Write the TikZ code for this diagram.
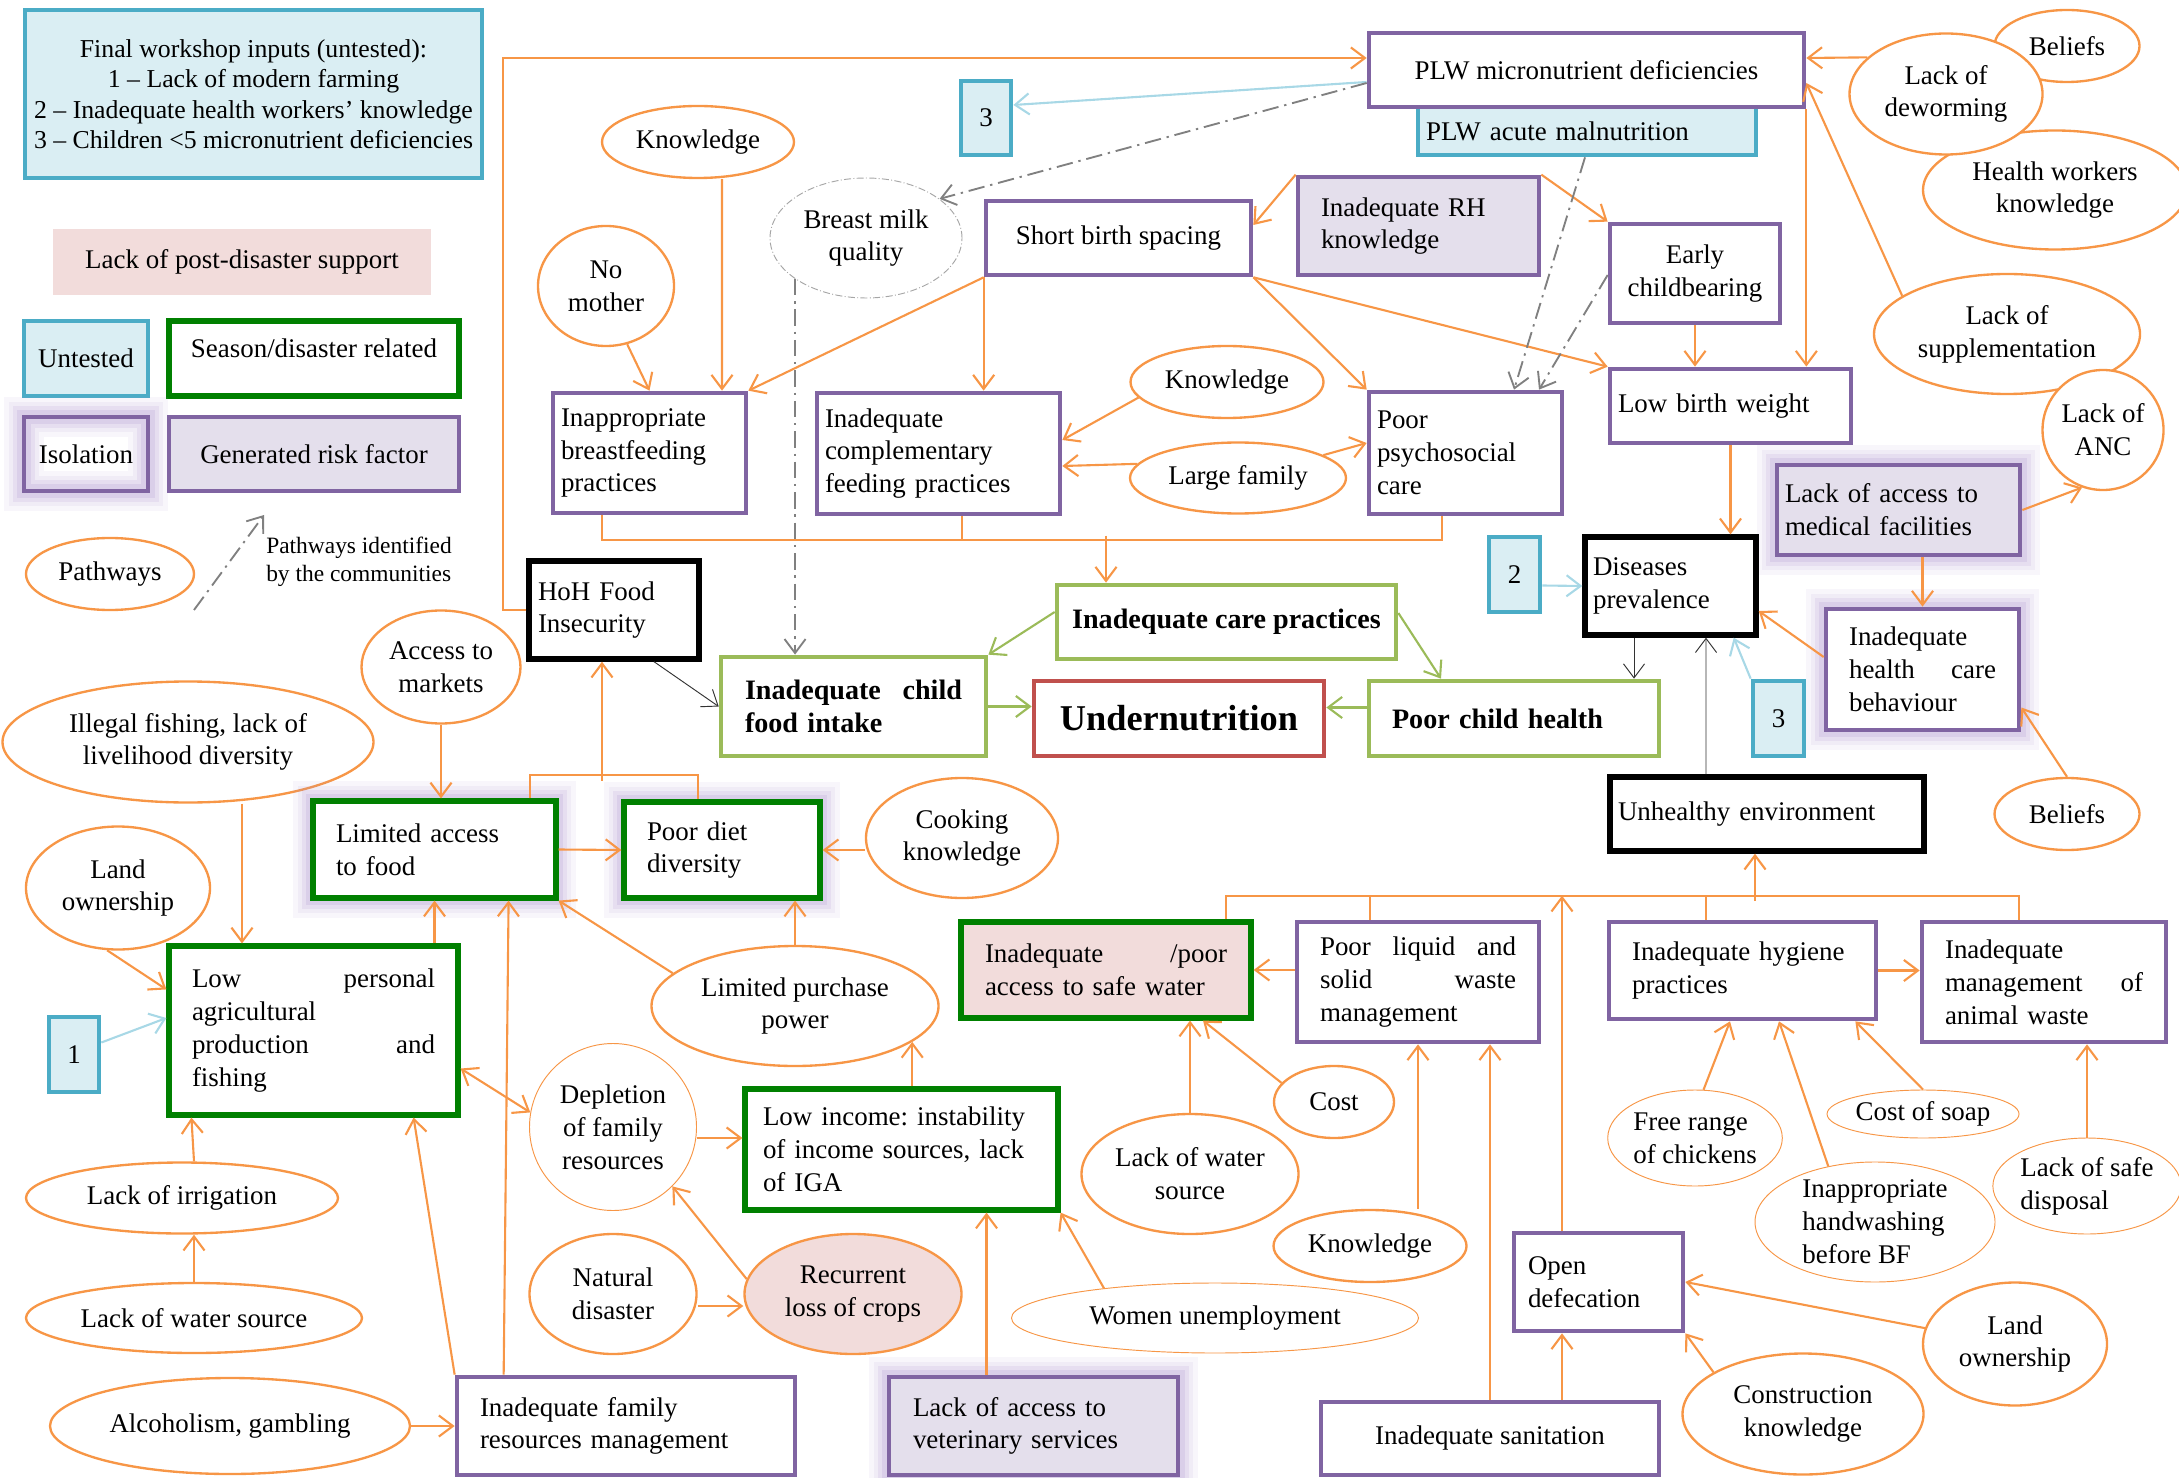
\documentclass[tikz,border=0pt]{standalone}
\usepackage{fontspec}
\setmainfont{Liberation Serif}
\usetikzlibrary{shapes.geometric,arrows.meta,calc}

\definecolor{orng}{HTML}{F79646}
\definecolor{purp}{HTML}{8064A2}
\definecolor{lav}{HTML}{E4DFEC}
\definecolor{dgreen}{HTML}{008000}
\definecolor{lgreen}{HTML}{9BBB59}
\definecolor{redb}{HTML}{C0504D}
\definecolor{blueb}{HTML}{4BACC6}
\definecolor{bluef}{HTML}{DAEEF3}
\definecolor{pinkf}{HTML}{F2DCDB}
\definecolor{ltblue}{HTML}{A8D8E6}
\definecolor{glowc}{HTML}{A98FCC}

\tikzset{
  wh/.code 2 args={\pgfmathsetlengthmacro\whw{#1*0.015cm}\pgfmathsetlengthmacro\whh{#2*0.015cm}\tikzset{minimum width=\whw, minimum height=\whh}},
  tw/.code={\pgfmathsetlengthmacro\twlen{#1*0.015cm}\tikzset{text width=\twlen}},
  padn/.style={inner xsep=0.12cm},
  padw/.style={inner xsep=0.345cm},
  pbox/.style={rectangle, draw=purp, line width=2pt, fill=white, align=left, inner ysep=2pt},
  gbox/.style={pbox, fill=lav},
  sbox/.style={pbox, draw=dgreen, line width=2.2pt},
  kbox/.style={pbox, draw=black, line width=2.3pt},
  cbox/.style={pbox, draw=lgreen, font=\fontsize{12}{14}\selectfont\bfseries},
  ubox/.style={rectangle, draw=blueb, line width=2pt, fill=bluef, align=center},
  glow/.style={preaction={draw=glowc, line width=17pt, opacity=0.08},
               preaction={draw=glowc, line width=13pt, opacity=0.1},
               preaction={draw=glowc, line width=9pt, opacity=0.14},
               preaction={draw=glowc, line width=6pt, opacity=0.2}},
  oval/.style={ellipse, draw=orng, line width=1pt, fill=white, align=center, inner sep=0pt},
  oarr/.style={draw=orng, line width=0.9pt, ->},
  oline/.style={draw=orng, line width=0.9pt},
  garr/.style={draw=lgreen, line width=0.9pt, ->},
  karr/.style={draw=black!80, line width=0.4pt, ->},
  barr/.style={draw=ltblue, line width=0.9pt, ->},
  parr/.style={draw=gray, line width=0.8pt, dash pattern=on 7pt off 2.5pt on 1pt off 2.5pt, ->}
}

\begin{document}
\begin{tikzpicture}[x=0.015cm, y=-0.015cm, >={Straight Barb[length=6pt,width=9pt]}, font=\fontsize{11.5}{14}\selectfont]
\useasboundingbox (0,0) rectangle (2179,1478);

% legend
\node[ubox, wh={457}{168}, font=\fontsize{11}{13}\selectfont] (leg) at (253.5,94) {Final workshop inputs (untested):\\1 – Lack of modern farming\\2 – Inadequate health workers’ knowledge\\3 – Children <5 micronutrient deficiencies};
\node[rectangle, fill=pinkf, wh={378}{66}] (post) at (242,262) {Lack of post-disaster support};
\node[ubox, wh={124}{75}] (untst) at (86,358.5) {Untested};
\node[sbox, wh={290}{75}, align=center, text depth=9pt] (seas) at (314,358.5) {Season/disaster related};
\node[pbox, glow, fill=none, wh={124}{74}] (isol) at (86,454) {Isolation};
\node[gbox, wh={290}{74}] (gen) at (314,454) {Generated risk factor};
\node[oval, wh={168}{72}] (pathw) at (110,574) {Pathways};
\coordinate (pa) at (194,610);
\coordinate (pb) at (264,515);
\node[anchor=west, align=left, font=\fontsize{10}{12}\selectfont] (ptxt) at (258,562) {Pathways identified\\by the communities};

% maternal side
\node[ubox, wh={338}{48}, padn, tw=322, align=left] (plwa) at (1587,131) {PLW acute malnutrition};
\node[pbox, wh={435}{74}] (plwm) at (1586.5,70) {PLW micronutrient deficiencies};
\node[ubox, wh={50}{74}] (thrA) at (986,118) {3};
\node[oval, wh={192}{72}] (knA) at (698,142) {Knowledge};
\node[oval, wh={136}{120}] (nomo) at (606,286) {No\\mother};
\node[oval, draw=gray!70, line width=0.4pt, densely dashdotted, wh={192}{120}] (bmq) at (866,238) {Breast milk\\quality};
\node[pbox, wh={265}{74}] (sbs) at (1118.5,238) {Short birth spacing};
\node[gbox, wh={241}{98}, padw, tw=195] (rh) at (1418.5,226) {Inadequate RH\\knowledge};
\node[pbox, wh={170}{99}, align=center] (ecb) at (1695,273.5) {Early\\childbearing};
\node[pbox, wh={241}{74}, padn, tw=225] (lbw) at (1730.5,406) {Low birth weight};
\node[pbox, wh={193}{120}, padn, tw=177] (inbf) at (649.5,453) {Inappropriate\\breastfeeding\\practices};
\node[pbox, wh={243}{121}, padn, tw=227] (icf) at (938.5,453.5) {Inadequate\\complementary\\feeding practices};
\node[oval, wh={193}{72}] (knB) at (1227,382) {Knowledge};
\node[oval, wh={216}{71}] (lfam) at (1238,478) {Large family};
\node[pbox, wh={193}{122}, padn, tw=177] (ppc) at (1465.5,453) {Poor\\psychosocial\\care};
\node[oval, wh={145}{72}] (belA) at (2067,46) {Beliefs};
\node[oval, wh={264}{119}] (hwk) at (2055,190) {Health workers\\knowledge};
\node[oval, wh={193}{121}] (dewo) at (1946,94) {Lack of\\deworming};
\node[oval, wh={266}{120}] (supp) at (2007,334) {Lack of\\supplementation};
\node[oval, wh={121}{120}] (anc) at (2103,430) {Lack of\\ANC};

% health side
\node[gbox, glow, wh={243}{90}, padn, tw=227] (lamf) at (1898.5,510) {Lack of access to\\medical facilities};
\node[pbox, glow, wh={193}{121}, padw, tw=147] (hcb) at (1922.5,669.5) {Inadequate\\health \hfill care\\behaviour};
\node[oval, wh={145}{72}] (belB) at (2067,814) {Beliefs};
\node[ubox, wh={51}{75}] (two) at (1514.5,574.5) {2};
\node[kbox, wh={171}{98}, padn, tw=155] (dis) at (1670.5,586) {Diseases\\prevalence};
\node[ubox, wh={51}{75}] (thrB) at (1778.5,718.5) {3};
\node[cbox, wh={290}{75}, padw, tw=244] (pch) at (1514,718.5) {Poor child health};
\node[pbox, draw=redb, wh={290}{75}, align=center, font=\fontsize{15.5}{18}\selectfont\bfseries] (und) at (1179,718.5) {Undernutrition};
\node[cbox, wh={265}{99}, padw, tw=217] (icfi) at (853.5,706.5) {Inadequate \hfill child\\food intake};
\node[cbox, wh={339}{74}, align=center] (icp) at (1226.5,622) {Inadequate care practices};
\node[kbox, wh={170}{98}, padn, tw=152] (hoh) at (614,610) {HoH Food\\Insecurity};
\node[kbox, wh={314}{74}, padn, tw=298] (unh) at (1767,814) {Unhealthy environment};

% food side
\node[oval, wh={371}{121}] (illg) at (188,742) {Illegal fishing, lack of\\livelihood diversity};
\node[oval, wh={159}{113}] (acm) at (441,667) {Access to\\markets};
\node[oval, wh={184}{123}] (landA) at (118,888) {Land\\ownership};
\node[sbox, glow, wh={243}{97}, padw, tw=197] (laf) at (434.5,849.5) {Limited access\\to food};
\node[sbox, glow, wh={194}{96}, padw, tw=150] (pdd) at (722,850) {Poor diet\\diversity};
\node[oval, wh={192}{120}] (cook) at (962,838) {Cooking\\knowledge};
\node[oval, wh={287}{120}] (lpp) at (795,1006) {Limited purchase\\power};
\node[sbox, wh={289}{169}, padw, tw=243] (lpap) at (313.5,1030.5) {Low \hfill personal\\agricultural\\production \hfill and\\fishing};
\node[ubox, wh={50}{75}] (one) at (74,1054.5) {1};
\node[oval, wh={312}{71}] (irr) at (182,1198) {Lack of irrigation};
\node[oval, wh={336}{70}] (wsrc) at (194,1318) {Lack of water source};
\node[oval, wh={360}{96}] (alc) at (230,1426) {Alcoholism, gambling};
\node[pbox, wh={338}{98}, padw, tw=292] (ifrm) at (626,1426) {Inadequate family\\resources management};
\node[oval, thin, wh={167}{167}] (depl) at (613,1127) {Depletion\\of family\\resources};
\node[oval, wh={167}{120}] (natd) at (613,1294) {Natural\\disaster};
\node[oval, fill=pinkf, wh={217}{120}] (rloc) at (853,1294) {Recurrent\\loss of crops};
\node[sbox, wh={313}{121}, inner xsep=0.27cm, tw=277] (linc) at (901.5,1149.5) {Low income:\ instability\\of income sources, lack\\of IGA};
\node[gbox, glow, wh={289}{98}, padw, tw=241] (vet) at (1033.5,1426) {Lack of access to\\veterinary services};
\node[oval, thin, wh={407}{70}] (wun) at (1215,1318) {Women unemployment};

% environment side
\node[sbox, fill=pinkf, wh={290}{96}, padw, tw=242] (wat) at (1106,970) {Inadequate \hfill /poor\\access to safe water};
\node[pbox, wh={242}{120}, padw, tw=196] (plsw) at (1418,982) {Poor \hfill liquid \hfill and\\solid \hfill waste\\management};
\node[pbox, wh={265}{97}, padw, tw=221] (hyg) at (1742.5,970.5) {Inadequate hygiene\\practices};
\node[pbox, wh={244}{120}, padw, tw=198] (anw) at (2044,982) {Inadequate\\management \hfill of\\animal waste};
\node[oval, wh={217}{120}] (lwsB) at (1190,1174) {Lack of water\\source};
\node[oval, wh={120}{72}] (cost) at (1334,1102) {Cost};
\node[oval, wh={193}{72}] (knC) at (1370,1246) {Knowledge};
\node[pbox, wh={169}{98}, inner xsep=0.21cm, tw=141] (opd) at (1598.5,1282) {Open\\defecation};
\node[pbox, wh={338}{73}, align=center] (isan) at (1490,1438.5) {Inadequate sanitation};
\node[oval, thin, align=left, wh={166}{96}] (frc) at (1695,1138) {Free range\\of chickens};
\node[oval, thin, wh={192}{48}] (csoap) at (1923,1114) {Cost of soap};
\node[oval, thin, align=left, wh={240}{120}] (hwbf) at (1875,1222) {Inappropriate\\handwashing\\before BF};
\node[oval, thin, align=left, wh={185}{96}] (lsd) at (2087,1186) {Lack of safe\\disposal};
\node[oval, wh={184}{123}] (landB) at (2015,1344) {Land\\ownership};
\node[oval, wh={241}{121}] (cons) at (1803,1414) {Construction\\knowledge};

% connectors, maternal side
\draw[oarr] (hoh.west) -- ++(-23,0) |- ($(plwm.west)+(0,-12)$);
\draw[oarr] ($(knA.south)+(24,0)$) -- ($(inbf.north)+(72.5,0)$);
\draw[oarr] (nomo.-70) -- (inbf.north);
\draw[oarr] (sbs.south west) -- (inbf.north east);
\draw[oarr] (sbs.south west) -- (sbs.south west |- icf.north);
\draw[oarr] (rh.north west) -- ($(sbs.east)+(0,-13)$);
\draw[oarr] (rh.north east) -- (ecb.north west);
\draw[oarr] (sbs.south east) -- (ppc.north west);
\draw[oarr] (sbs.south east) -- (lbw.north west);
\draw[oarr] (knB.190) -- ($(icf.east)+(0,-13.5)$);
\draw[oarr] (lfam.172) -- ($(icf.east)+(0,12.5)$);
\draw[oarr] (lfam.15) -- ($(ppc.west)+(0,-10)$);
\draw[oarr] (dewo.155) -- ($(plwm.east)+(0,-12)$);
\draw[oarr] (supp.160) -- ($(plwm.east)+(0,13)$);
\draw[oarr] (plwm.south east) -- (plwm.south east |- lbw.north);
\draw[oarr] (ecb.south) -- (ecb.south |- lbw.north);
\draw[oarr] (lbw.south) -- (lbw.south |- dis.north);
\draw[oarr] (lamf.east) -- (anc.-110);
\draw[oarr] (hcb.north |- lamf.south) -- (hcb.north);
\draw[oarr] ($(hcb.west)+(0,-12.5)$) -- ($(dis.east)+(0,25)$);
\draw[oarr] (belB.north) -- ($(hcb.east)+(0,38)$);
\draw[oline] ($(inbf.south)+(-47.5,0)$) -- ++(0,25) -| ($(ppc.south)+(-23.5,0)$);
\draw[oline] ($(icf.south)+(23.5,0)$) -- ++(0,24);
\draw[oarr] ($(icp.north)+(-120.5,-47)$) -- ($(icp.north)+(-120.5,0)$);

% food side
\draw[oline] ($(laf.north)+(95.5,0)$) |- ($(pdd.north)+(-24,-24)$) -- ($(pdd.north)+(-24,0)$);
\draw[oarr] ($(hoh.south)+(-12,119)$) -- ($(hoh.south)+(-12,0)$);
\draw[oarr] (acm.south) -- (acm.south |- laf.north);
\draw[oarr] ($(illg.south)+(54,0)$) -- ($(lpap.north)+(-71.5,0)$);
\draw[oarr] (landA.-100) -- ($(lpap.north west)+(0,46)$);
\draw[oarr] (laf.south |- lpap.north) -- (laf.south);
\draw[oarr] ($(ifrm.north west)+(49,0)$) -- ($(laf.south east)+(-50,0)$);
\draw[oarr] (laf.east) -- (pdd.west);
\draw[oarr] ($(cook.west)+(0,12)$) -- (pdd.east);
\draw[oarr] (lpp.north) -- (lpp.north |- pdd.south);
\draw[oarr] (lpp.165) -- (laf.south east);
\draw[oarr] (alc.east) -- (ifrm.west);
\draw[oarr] (ifrm.north west) -- ($(lpap.south east)+(-47,0)$);
\draw[oarr, <->] ($(lpap.east)+(0,38)$) -- (depl.170);
\draw[oarr] ($(irr.north)+(12,0)$) -- ($(lpap.south west)+(25,0)$);
\draw[oarr] (wsrc.north) -- (wsrc.north |- irr.south);
\draw[barr] ($(one.east)+(0,-12)$) -- ($(lpap.west)+(0,-12.5)$);
\draw[oarr] ($(depl.east)+(0,11)$) -- ($(linc.west)+(0,-11.5)$);
\draw[oarr] (linc.north -| lpp.-17) -- (lpp.-17);
\draw[oarr] ($(natd.east)+(0,12)$) -- ($(rloc.west)+(0,12)$);
\draw[oarr] (rloc.172) -- (depl.-45);
\draw[oarr] ($(vet.north)+(-47,0)$) -- ($(linc.south)+(85,0)$);
\draw[oarr] (wun.165) -- (linc.south east);

% environment side
\draw[oline] ($(wat.north)+(120,0)$) |- ($(anw.north)+(-25,-24)$) -- ($(anw.north)+(-25,0)$);
\draw[oline] ($(plsw.north)+(-48,0)$) -- ++(0,-24);
\draw[oline] ($(hyg.north)+(-36.5,0)$) -- ++(0,-24);
\draw[oarr] ($(unh.south)+(-12,47)$) -- ($(unh.south)+(-12,0)$);
\draw[oarr] ($(opd.north)+(-36.5,0)$) -- ++(0,-335);
\draw[oarr] ($(plsw.west)+(0,-12)$) -- (wat.east);
\draw[oarr] (lwsB.north) -- (lwsB.north |- wat.south);
\draw[oarr] (cost.160) -- ($(wat.south)+(97,0)$);
\draw[oarr] (plsw.south |- knC.north) -- (plsw.south);
\draw[oarr] (isan.north) -- (isan.north |- plsw.south);
\draw[oarr] ($(isan.north)+(72,0)$) -- ($(opd.south)+(-36.5,0)$);
\draw[oarr] (hyg.east) -- (hyg.east -| anw.west);
\draw[oarr] (frc.80) -- ($(hyg.south)+(-12.5,0)$);
\draw[oarr] (hwbf.130) -- ($(hyg.south)+(36.5,0)$);
\draw[oarr] (csoap.north) -- ($(hyg.south east)+(-23,0)$);
\draw[oarr] (lsd.north) -- (lsd.north |- anw.south);
\draw[oarr] (landB.170) -- (opd.east);
\draw[oarr] (cons.155) -- (opd.south east);

% care, health and untested links
\draw[garr] ($(icp.west)+(0,-10)$) -- (icfi.north east);
\draw[garr] ($(icp.east)+(0,-9)$) -- ($(pch.north)+(-73,0)$);
\draw[garr] (icfi.east) -- (icfi.east -| und.west);
\draw[garr] ($(pch.west)+(0,-11)$) -- ($(und.east)+(0,-11)$);
\draw[karr] ($(hoh.south)+(40,0)$) -- (icfi.west);
\draw[karr] ($(dis.south)+(-36.5,0)$) -- ($(pch.north)+(120,0)$);
\draw[karr] ($(unh.north)+(-61,0)$) -- ($(dis.south)+(35.5,0)$);
\draw[barr] ($(plwm.west)+(0,12)$) -- ($(thrA.east)+(0,-13)$);
\draw[barr] ($(two.east)+(0,11)$) -- (dis.west);
\draw[barr] (thrB.north west) -- ($(dis.south east)+(-25,0)$);
\draw[parr] ($(plwm.west)+(0,13)$) -- (bmq.28);
\draw[parr] (bmq.-150) -- (bmq.-150 |- icfi.north);
\draw[parr] ($(plwa.south)+(-2,0)$) -- ($(ppc.north)+(48.5,0)$);
\draw[parr] ($(ecb.west)+(0,1.5)$) -- ($(ppc.north)+(73.5,0)$);
\draw[parr] (pa) -- (pb);

\end{tikzpicture}
\end{document}
